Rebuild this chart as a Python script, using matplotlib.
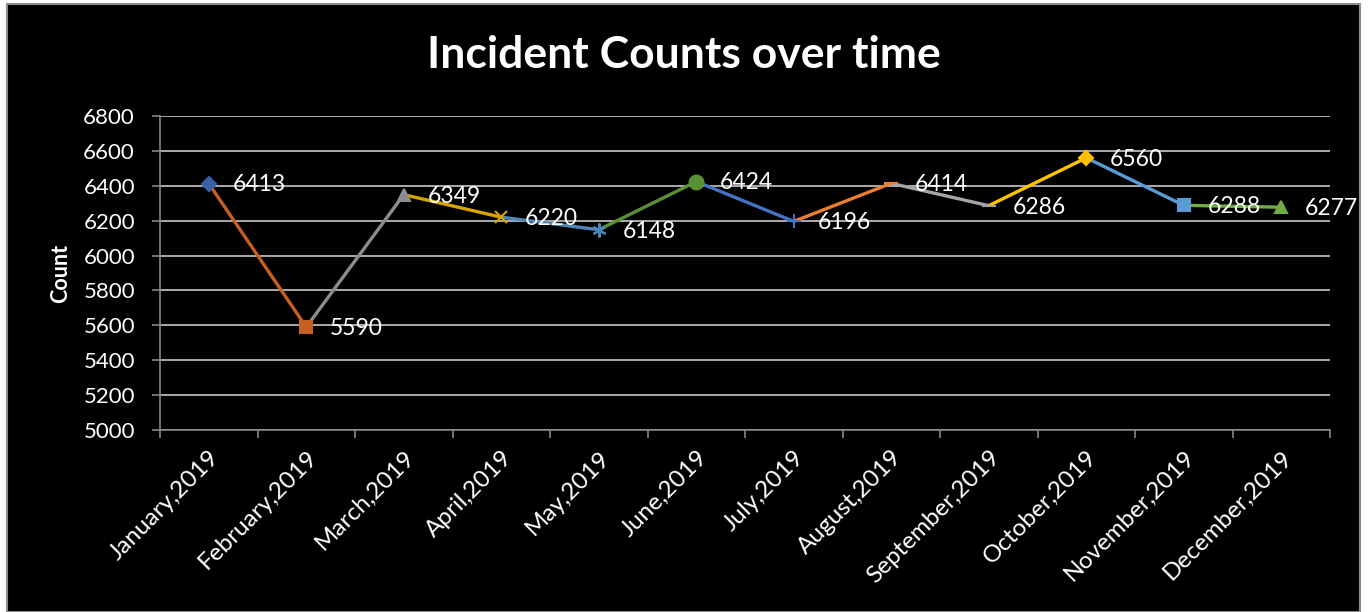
import matplotlib.pyplot as plt
from matplotlib.patches import Rectangle

plt.rcParams['font.family'] = ['Lato', 'DejaVu Sans']

meses = ['January,2019', 'February,2019', 'March,2019', 'April,2019', 'May,2019', 'June,2019',
         'July,2019', 'August,2019', 'September,2019', 'October,2019', 'November,2019', 'December,2019']
contagens = [6413, 5590, 6349, 6220, 6148, 6424, 6196, 6414, 6286, 6560, 6288, 6277]

# uma cor e um marcador por ponto (o segmento que chega ao ponto usa a cor dele)
cores = ['#3A62A6', '#C65F24', '#8C8C8C', '#D9A300', '#4E86B8', '#5A8F35',
         '#4472C4', '#ED7D31', '#A5A5A5', '#FFC000', '#5B9BD5', '#70AD47']
marcadores = ['D', 's', '^', 'x', (6, 2, 0), 'o', '+', '_', '_', 'D', 's', '^']
tamanhos = [7, 9, 9, 9, 10, 10, 10, 10, 10, 7, 9, 9]

fig = plt.figure(figsize=(13.69, 6.12), dpi=100)
fig.patch.set_facecolor('white')

# fundo preto do grafico
fig.patches.append(Rectangle((7 / 1369, 0), 1353 / 1369, 608 / 612, transform=fig.transFigure,
                             facecolor='black', edgecolor='#8C8C8C', lw=1.5, zorder=-5))

ax = fig.add_axes([160 / 1369, 182 / 612, 1170 / 1369, 314 / 612])
ax.set_facecolor('black')

x = list(range(len(meses)))

# linhas entre os pontos
for i in range(1, len(x)):
    ax.plot([x[i - 1], x[i]], [contagens[i - 1], contagens[i]], color=cores[i], lw=2.4,
            solid_capstyle='butt', zorder=3)

# marcadores e rotulos de valor
for i in range(len(x)):
    ax.plot(x[i], contagens[i], marker=marcadores[i], color=cores[i], markersize=tamanhos[i],
            markeredgewidth=1.5, ls='none', zorder=4)
    ax.annotate(str(contagens[i]), (x[i], contagens[i]), xytext=(17, -1), textcoords='offset points',
                ha='left', va='center', color='white', fontsize=16.5, zorder=5)

ax.set_xlim(-0.5, 11.5)
ax.set_ylim(5000, 6800)
ax.set_yticks(range(5000, 6801, 200))
ax.set_xticks(x)
ax.set_xticklabels(meses, rotation=45, ha='right', rotation_mode='anchor')
ax.set_xticks([i - 0.5 for i in range(13)], minor=True)

ax.tick_params(axis='x', which='major', length=0, pad=12, colors='white', labelsize=17.5)
ax.tick_params(axis='x', which='minor', length=6, width=1.2, color='#868686', direction='out')
ax.tick_params(axis='y', length=6, width=1.2, color='#868686', colors='white', labelsize=16, pad=12)
for lbl in ax.get_yticklabels():
    lbl.set_color('white')

ax.grid(axis='y', color='#D9D9D9', lw=1.1)
ax.set_axisbelow(True)
for lado in ['top', 'right']:
    ax.spines[lado].set_visible(False)
for lado in ['left', 'bottom']:
    ax.spines[lado].set_color('#868686')
    ax.spines[lado].set_linewidth(1.2)

ax.set_ylabel('Count', color='white', fontsize=15.5, fontweight='bold')
ax.yaxis.set_label_coords(-0.076, 0.5)
fig.text(684 / 1369, 1 - 55 / 612, 'Incident Counts over time', color='white', fontsize=32,
         fontweight='bold', ha='center', va='center')

plt.savefig('out.png', dpi=100, facecolor=fig.get_facecolor())
